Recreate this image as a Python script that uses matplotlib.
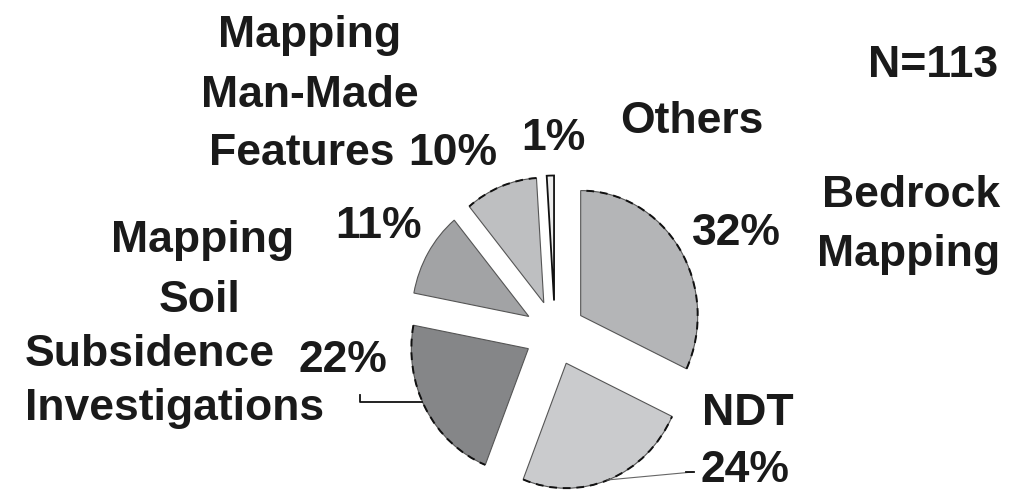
import matplotlib

matplotlib.use("Agg")
import matplotlib.pyplot as plt
from matplotlib.patches import Arc

# --- data ---
categories = ["Bedrock Mapping", "NDT", "Subsidence Investigations",
              "Mapping Soil", "Mapping Man-Made Features", "Others"]
shares = [32, 24, 22, 11, 10, 1]
n_total = 113

# --- style ---
colors = ["#b4b5b7", "#cacbcd", "#858688", "#a2a3a5", "#bebfc1", "#ececec"]
dashed_arc = [True, True, True, False, True, False]
FS = 32
FONT = dict(family=["Liberation Sans", "DejaVu Sans"], fontweight="bold",
            fontsize=FS, color="#1a1a1a")

W, H = 1033, 492
fig = plt.figure(figsize=(W / 100, H / 100), dpi=100)

# pie axes: 1 unit = 117 px horizontally, 125 px vertically, centre at (555, 333) px
cx, cy, rx, ry = 555, 333, 117, 125
span = 1.5
axp = fig.add_axes([(cx - span * rx) / W, (H - cy - span * ry) / H,
                    2 * span * rx / W, 2 * span * ry / H])
wedges, _ = axp.pie(shares, colors=colors, startangle=90, counterclock=False,
                    explode=[0.26] * len(shares),
                    wedgeprops=dict(edgecolor="#555555", linewidth=0.8))
axp.set_aspect("auto")
axp.set_xlim(-span, span)
axp.set_ylim(-span, span)
axp.axis("off")

for w, dash in zip(wedges, dashed_arc):
    if dash:
        axp.add_patch(Arc(w.center, 2 * w.r, 2 * w.r, theta1=w.theta1, theta2=w.theta2,
                          color="#111111", lw=1.4, linestyle=(0, (4, 3))))
# the thin "Others" slice has a heavy outline
wedges[-1].set_edgecolor("#111111")
wedges[-1].set_linewidth(1.3)

# overlay axes in pixel coordinates for labels and leaders
ax = fig.add_axes([0, 0, 1, 1])
ax.set_xlim(0, W)
ax.set_ylim(H, 0)
ax.axis("off")
ax.patch.set_alpha(0)


def label(x, y, s, ha="left"):
    ax.text(x, y, s, ha=ha, va="baseline", **FONT)


label(310, 47, "Mapping", ha="center")
label(310, 107, "Man-Made", ha="center")
label(302, 165, "Features", ha="center")
label(408, 165, f"{shares[4]}%")
label(521, 150, f"{shares[5]}%")
label(620, 133, "Others")
label(998, 77, f"N={n_total}", ha="right")
label(1000, 207, "Bedrock", ha="right")
label(1000, 266, "Mapping", ha="right")
label(692, 245, f"{shares[0]}%")
label(335, 238, f"{shares[3]}%")
label(203, 252, "Mapping", ha="center")
label(200, 312, "Soil", ha="center")
label(25, 366, "Subsidence")
label(299, 372, f"{shares[2]}%")
label(25, 420, "Investigations")
label(702, 425, "NDT")
label(700, 482, f"{shares[1]}%")

# leader lines
ax.plot([360, 360, 422], [395, 402, 402], color="#111111", lw=1.3)
ax.plot([693, 607], [472, 480], color="#666666", lw=0.8)
ax.plot([686, 694], [472, 472], color="#111111", lw=1.3)

fig.savefig("out.png", dpi=100)
